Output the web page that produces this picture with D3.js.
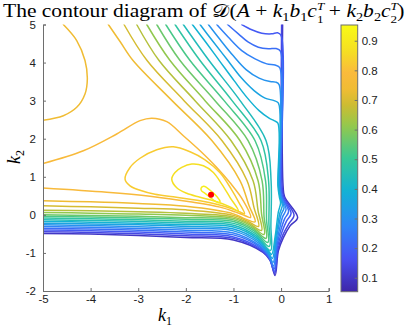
<!DOCTYPE html>
<html><head><meta charset="utf-8">
<script src="https://cdn.jsdelivr.net/npm/d3@7"></script>
<style>body{margin:0;background:#fff}svg{display:block}</style>
</head><body>
<svg id="chart" width="407" height="327"></svg>
<script>
// ---------------- data ----------------
const xTicks = [-5, -4, -3, -2, -1, 0, 1];
const yTicks = [-2, -1, 0, 1, 2, 3, 4, 5];
const cbTicks = [0.1, 0.2, 0.3, 0.4, 0.5, 0.6, 0.7, 0.8, 0.9];
const cbRange = [0.053, 0.953];
const maxPoint = [[-1.471, 0.526]];

// contour lines, one array per level: [k1, k2] points
const c0910 = [[-1.681,0.697],[-1.628,0.750],[-1.555,0.711],[-1.450,0.605],[-1.345,0.474],[-1.282,0.355],[-1.303,0.316],[-1.376,0.355],[-1.492,0.461],[-1.597,0.566],[-1.670,0.632]];
const c0867 = [[-2.296,0.939],[-2.227,1.113],[-2.086,1.245],[-1.876,1.334],[-1.632,1.289],[-1.422,1.113],[-1.246,0.808],[-1.071,0.455],[-0.897,0.105],[-1.071,0.211],[-1.351,0.342],[-1.702,0.461],[-1.981,0.566],[-2.191,0.711]];
const c0824 = [[-3.277,0.939],[-3.172,1.245],[-2.962,1.487],[-2.611,1.711],[-2.263,1.789],[-1.912,1.658],[-1.597,1.447],[-1.282,1.105],[-1.050,0.684],[-0.882,0.316],[-0.767,0.026],[-0.861,0.074],[-1.029,0.158],[-1.351,0.276],[-1.702,0.368],[-1.912,0.408],[-2.263,0.474],[-2.647,0.539],[-2.962,0.645],[-3.172,0.763]];
const c0781 = [[-5,1.35],[-4.153,1.684],[-3.452,2.124],[-2.962,2.474],[-2.716,2.539],[-2.401,2.447],[-2.053,2.079],[-1.702,1.684],[-1.351,1.245],[-1.071,0.842],[-0.792,0.368],[-0.641,-0.066],[-0.798,0.0],[-0.966,0.079],[-1.282,0.203],[-1.912,0.342],[-2.752,0.487],[-3.662,0.592],[-5,0.703]];
const c0739a = [[-4.573,5.0],[-4.292,4.579],[-4.118,4.053],[-4.069,3.571],[-4.118,3.176],[-4.292,2.824],[-4.573,2.605],[-5,2.487]];
const c0739 = [[-5,0.368],[-4,0.342],[-3,0.297],[-2,0.224],[-1,0.026],[-0.756,-0.105],[-0.546,-0.184],[-0.672,0.237],[-0.861,0.895],[-1.450,1.947],[-2.290,3.0],[-3.109,4.053],[-3.382,4.553],[-3.628,5.0]];
const c0696 = [[-5,0.237],[-4,0.211],[-3,0.176],[-2,0.132],[-1,-0.013],[-0.714,-0.158],[-0.473,-0.303],[-0.567,0.184],[-0.714,0.895],[-1.239,1.947],[-2.038,3.0],[-2.815,4.053],[-3.298,5.0]];
const c0653 = [[-5,0.124],[-4,0.105],[-3,0.079],[-2,0.039],[-1,-0.053],[-0.672,-0.224],[-0.410,-0.408],[-0.483,0.105],[-0.588,0.895],[-1.050,1.947],[-1.807,3.0],[-2.563,4.053],[-3.032,5.0]];
const c0610 = [[-5,0.061],[-4,0.045],[-3,0.021],[-2,-0.013],[-1,-0.092],[-0.630,-0.289],[-0.357,-0.513],[-0.410,0.026],[-0.483,0.895],[-0.861,1.947],[-1.597,3.0],[-2.332,4.053],[-2.821,5.0]];
const c0567 = [[-5,0.0],[-4,-0.016],[-3,-0.039],[-2,-0.074],[-1,-0.132],[-0.599,-0.355],[-0.315,-0.618],[-0.357,-0.053],[-0.399,0.895],[-0.693,1.947],[-1.387,3.0],[-2.122,4.053],[-2.611,5.0]];
const c0524 = [[-5,-0.039],[-4,-0.058],[-3,-0.084],[-2,-0.118],[-1,-0.176],[-0.567,-0.421],[-0.277,-0.724],[-0.305,-0.132],[-0.326,0.895],[-0.546,1.947],[-1.197,3.0],[-1.912,4.053],[-2.422,5.0]];
const c0481 = [[-5,-0.084],[-4,-0.103],[-3,-0.129],[-2,-0.166],[-1,-0.224],[-0.546,-0.487],[-0.248,-0.829],[-0.256,-0.211],[-0.263,0.895],[-0.420,1.947],[-1.029,3.0],[-1.702,4.053],[-2.227,5.0]];
const c0439 = [[-5,-0.129],[-4,-0.147],[-3,-0.174],[-2,-0.211],[-1,-0.271],[-0.525,-0.553],[-0.221,-0.934],[-0.214,-0.289],[-0.210,0.895],[-0.315,1.947],[-0.861,3.0],[-1.513,4.053],[-2.053,5.0]];
const c0396 = [[-5,-0.174],[-4,-0.192],[-3,-0.218],[-2,-0.258],[-1,-0.321],[-0.504,-0.618],[-0.286,-0.908],[-0.2,-1.039],[-0.126,-0.579],[-0.088,-0.211],[-0.057,0.079],[-0.011,0.303],[-0.036,0.474],[-0.067,0.763],[-0.067,2.408],[-0.147,2.474],[-0.252,2.539],[-0.462,2.737],[-0.714,3.079],[-0.987,3.526],[-1.282,4.026],[-1.576,4.526],[-1.863,5.0]];
const c0353 = [[-5,-0.218],[-4,-0.237],[-3,-0.263],[-2,-0.305],[-1,-0.371],[-0.483,-0.684],[-0.277,-0.961],[-0.183,-1.145],[-0.116,-0.632],[-0.069,-0.263],[-0.027,0.039],[0.027,0.250],[-0.023,0.474],[-0.055,0.763],[-0.055,2.934],[-0.147,3.0],[-0.336,3.066],[-0.567,3.263],[-0.840,3.605],[-1.134,4.079],[-1.429,4.553],[-1.702,5.0]];
const c0310 = [[-5,-0.263],[-4,-0.282],[-3,-0.311],[-2,-0.355],[-1,-0.421],[-0.462,-0.750],[-0.269,-1.013],[-0.168,-1.25],[-0.105,-0.684],[-0.053,-0.316],[0.0,0.0],[0.063,0.197],[-0.011,0.474],[-0.042,0.763],[-0.042,3.421],[-0.116,3.487],[-0.231,3.5],[-0.462,3.592],[-0.735,3.816],[-1.008,4.184],[-1.282,4.605],[-1.527,5.0]];
const c0267 = [[-5,-0.308],[-4,-0.326],[-3,-0.358],[-2,-0.403],[-1,-0.474],[-0.441,-0.816],[-0.261,-1.066],[-0.158,-1.342],[-0.095,-0.737],[-0.032,-0.368],[0.032,-0.053],[0.105,0.145],[0.002,0.474],[-0.029,0.763],[-0.029,3.868],[-0.126,3.934],[-0.300,3.966],[-0.546,4.097],[-0.826,4.316],[-1.107,4.666],[-1.351,5.0]];
const c0224 = [[-5,-0.353],[-4,-0.371],[-3,-0.405],[-2,-0.453],[-1,-0.526],[-0.420,-0.868],[-0.252,-1.105],[-0.147,-1.421],[-0.084,-0.789],[-0.011,-0.421],[0.074,-0.105],[0.158,0.092],[0.017,0.474],[-0.015,0.763],[-0.015,4.303],[-0.105,4.368],[-0.267,4.361],[-0.477,4.403],[-0.687,4.534],[-0.897,4.755],[-1.124,5.0]];
const c0181 = [[-5,-0.397],[-4,-0.416],[-3,-0.450],[-2,-0.500],[-1,-0.579],[-0.399,-0.921],[-0.244,-1.145],[-0.141,-1.487],[-0.074,-0.842],[0.011,-0.474],[0.116,-0.158],[0.210,0.039],[0.032,0.474],[0,0.763],[0,4.71],[-0.074,4.782],[-0.195,4.755],[-0.405,4.771],[-0.616,4.861],[-0.826,5.0]];
const c0139 = [[-5,-0.442],[-4,-0.461],[-3,-0.495],[-2,-0.547],[-1,-0.618],[-0.389,-0.961],[-0.237,-1.171],[-0.134,-1.539],[-0.063,-0.895],[0.038,-0.526],[0.168,-0.224],[0.273,-0.013],[0.053,0.474],[0.021,0.763],[0.011,5.0]];
const c0096 = [[-5,-0.492],[-4,-0.505],[-3,-0.539],[-2,-0.592],[-1,-0.658],[-0.378,-0.987],[-0.231,-1.197],[-0.126,-1.592],[-0.057,-0.947],[0.048,-0.597],[0.189,-0.289],[0.347,-0.071],[0.074,0.474],[0.042,0.763],[0.032,5.0]];

const levelValues = [0.096,0.139,0.181,0.224,0.267,0.310,0.353,0.396,0.439,0.481,0.524,0.567,0.610,0.653,0.696,0.739,0.739,0.781,0.824,0.867,0.910];
const levelLines  = [c0096,c0139,c0181,c0224,c0267,c0310,c0353,c0396,c0439,c0481,c0524,c0567,c0610,c0653,c0696,c0739,c0739a,c0781,c0824,c0867,c0910];
const levelClosed = [0,0,0,0,0,0,0,0,0,0,0,0,0,0,0,0,0,0,1,1,1];

// ---------------- drawing ----------------
const svg = d3.select("#chart");
const P = {l: 43, r: 328.7, t: 24.5, b: 291};
const x = d3.scaleLinear().domain([-5, 1]).range([P.l, P.r]);
const y = d3.scaleLinear().domain([-2, 5]).range([P.b, P.t]);

// parula-like colormap
const parulaPos = [0, 0.125, 0.25, 0.375, 0.5, 0.625, 0.70, 0.76, 0.82, 0.90, 1];
const parulaCol = ["rgb(62,38,168)","rgb(72,82,244)","rgb(46,135,247)","rgb(18,177,214)",
  "rgb(55,200,151)","rgb(150,200,75)","rgb(205,188,50)","rgb(240,188,52)","rgb(250,186,60)","rgb(245,222,35)","rgb(249,251,21)"];
const parulaScale = d3.scaleLinear().domain(parulaPos).range(parulaCol).interpolate(d3.interpolateRgb).clamp(true);
const tScale = d3.scaleLinear().domain(cbRange).range([0, 1]).clamp(true);
const color = v => parulaScale(tScale(v));

const sans = "'Liberation Sans', Arial, Helvetica, sans-serif";
const serif = "'Liberation Serif', 'DejaVu Serif', 'Times New Roman', serif";

const defs = svg.append("defs");
defs.append("clipPath").attr("id","clip")
  .append("rect").attr("x",P.l).attr("y",P.t).attr("width",P.r-P.l).attr("height",P.b-P.t);

const gLines = svg.append("g").attr("clip-path","url(#clip)");
const openLine = d3.line().x(d=>x(d[0])).y(d=>y(d[1])).curve(d3.curveCatmullRom.alpha(0.5));
const closedLine = d3.line().x(d=>x(d[0])).y(d=>y(d[1])).curve(d3.curveCatmullRomClosed.alpha(0.5));

levelLines.forEach((pts, i) => {
  gLines.append("path")
    .attr("d", (levelClosed[i] ? closedLine : openLine)(pts))
    .attr("fill","none")
    .attr("stroke", color(levelValues[i]))
    .attr("stroke-width", 1.5)
    .attr("stroke-linejoin","round")
    .attr("stroke-linecap","round");
});

gLines.selectAll("circle.max").data(maxPoint).join("circle")
  .attr("class","max").attr("cx",d=>x(d[0])).attr("cy",d=>y(d[1])).attr("r",3)
  .attr("fill","#ff0000");

// axes
const axisColor = "#6e6e6e";
const gx = svg.append("g").attr("transform",`translate(0,${P.b})`)
  .call(d3.axisBottom(x).tickValues(xTicks).tickSize(-3).tickPadding(3.5).tickFormat(d=>String(d)));
const gy = svg.append("g").attr("transform",`translate(${P.l},0)`)
  .call(d3.axisLeft(y).tickValues(yTicks).tickSize(-3).tickPadding(7).tickFormat(d=>String(d)));
[gx, gy].forEach(g => {
  g.select(".domain").attr("stroke",axisColor).attr("stroke-width",1);
  g.selectAll(".tick line").attr("stroke",axisColor);
  g.selectAll(".tick text").attr("fill","#222").style("font-family",sans).style("font-size","11.5px");
});

// axis labels
const xl = svg.append("text").attr("x",158).attr("y",321).style("font-family",serif).style("font-size","18px");
xl.append("tspan").attr("font-style","italic").text("k");
xl.append("tspan").attr("dy",3.5).style("font-size","12px").text("1");
const yl = svg.append("text").attr("transform","translate(20,164) rotate(-90)").style("font-family",serif).style("font-size","18px");
yl.append("tspan").attr("font-style","italic").text("k");
yl.append("tspan").attr("dy",3.5).style("font-size","12px").text("2");

// colorbar
const cb = {x: 341, w: 16.7, t: 25, b: 291.7};
const cy = d3.scaleLinear().domain(cbRange).range([cb.b, cb.t]);
const grad = defs.append("linearGradient").attr("id","cbgrad")
  .attr("x1",0).attr("y1",1).attr("x2",0).attr("y2",0);
d3.range(0, 1.0001, 0.02).forEach(t => {
  grad.append("stop").attr("offset", t).attr("stop-color", parulaScale(t));
});
svg.append("rect").attr("x",cb.x).attr("y",cb.t).attr("width",cb.w).attr("height",cb.b-cb.t)
  .attr("fill","url(#cbgrad)").attr("stroke",axisColor).attr("stroke-width",1);
const gcb = svg.append("g").attr("transform",`translate(${cb.x+cb.w},0)`)
  .call(d3.axisRight(cy).tickValues(cbTicks).tickSize(-3).tickPadding(4).tickFormat(d3.format(".1f")));
gcb.select(".domain").remove();
gcb.selectAll(".tick line").attr("stroke",axisColor);
gcb.selectAll(".tick text").attr("fill","#222").style("font-family",sans).style("font-size","11.5px");

// title
const titleG = svg.append("g");
const title = titleG.append("text").attr("x",0).attr("y",0).style("font-family",serif).style("font-size","18px").attr("fill","#000");
function part(t, opt) {
  opt = opt || {};
  const s = title.append("tspan").text(t);
  if (opt.i) s.attr("font-style","italic");
  if (opt.size) s.style("font-size", opt.size + "px");
  if (opt.dy) s.attr("dy", opt.dy);
  if (opt.dx) s.attr("dx", opt.dx);
  return s;
}
part("The contour diagram of ");
part("𝒟");
part("(");
part("A",{i:1});
part(" + ");
part("k",{i:1}); part("1",{size:12,dy:4}); part("b",{i:1,dy:-4}); part("1",{size:12,dy:4});
part("c",{i:1,dy:-4});
let T1 = part("T",{i:1,size:11,dy:-6.2});
let w1 = T1.node().getComputedTextLength();
part("1",{size:11,dy:12.3,dx:-w1});
part(" + ",{dy:-6.1});
part("k",{i:1}); part("2",{size:12,dy:4}); part("b",{i:1,dy:-4}); part("2",{size:12,dy:4});
part("c",{i:1,dy:-4});
let T2 = part("T",{i:1,size:11,dy:-6.2});
let w2 = T2.node().getComputedTextLength();
part("2",{size:11,dy:12.3,dx:-w2});
part(")",{dy:-6.1});
const tw = title.node().getBBox().width;
const sx = tw > 0 ? 401 / tw : 1;
titleG.attr("transform", `translate(3,16.5) scale(${sx},1)`);
</script>
</body></html>
